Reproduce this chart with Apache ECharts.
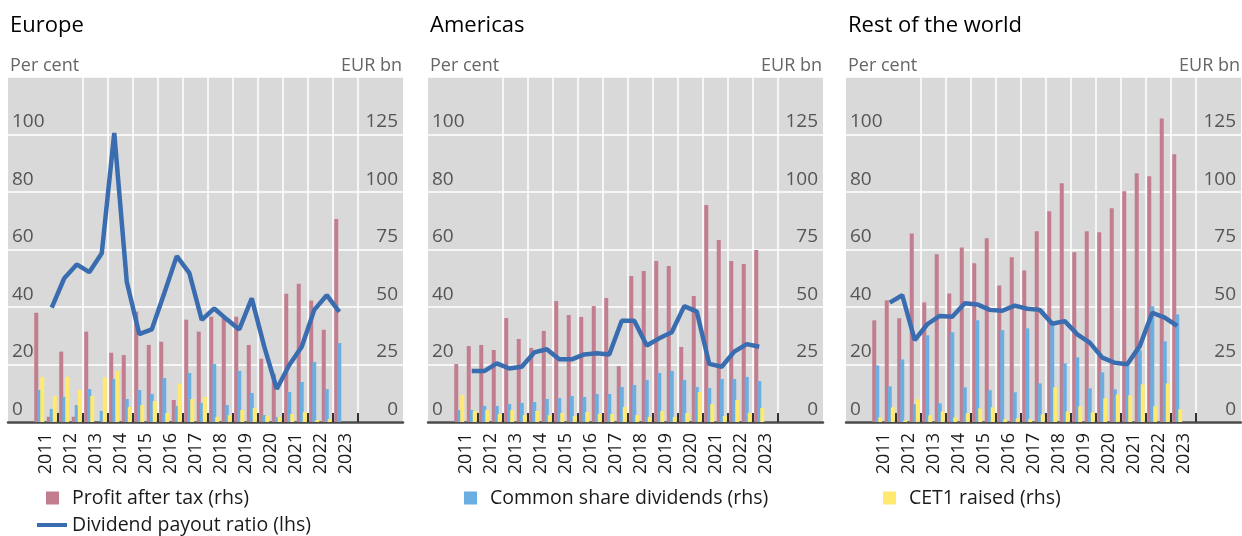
<!DOCTYPE html>
<html><head><meta charset="utf-8">
<script src="https://cdn.jsdelivr.net/npm/echarts@6/dist/echarts.min.js"></script>
<style>html,body{margin:0;padding:0;background:#fff}#c{width:1242px;height:536px}</style>
</head><body><div id="c"></div><script>
// ---------- data ----------
const years = ['2011','2012','2013','2014','2015','2016','2017','2018','2019','2020','2021','2022','2023'];
const halfYears = years.flatMap(y => [y + ' H1', y + ' H2']);
const panelTitles = ['Europe', 'Americas', 'Rest of the world'];
const seriesNames = ['Profit after tax (rhs)', 'Common share dividends (rhs)', 'CET1 raised (rhs)', 'Dividend payout ratio (lhs)'];

// Europe (EUR bn, half-yearly; payout ratio in per cent)
const europeProfit    = [47.5, 2.3, 30.6, 2.3, 39.3, 0, 30.1, 29.1, 48.0, 33.5, 34.9, 9.6, 44.5, 39.3, 45.8, 45.1, 45.8, 33.5, 27.5, 20.9, 55.8, 60.1, 52.8, 40.1, 88.3, null];
const europeDividends = [13.9, 5.7, 10.9, 7.4, 14.3, 4.8, 18.7, 10.0, 13.9, 12.2, 19.1, 7.0, 21.3, 8.3, 25.2, 7.4, 22.2, 12.6, 3.0, 2.2, 13.0, 17.4, 26.1, 14.3, 34.3, null];
const europeCet1      = [19.6, 11.3, 19.6, 13.9, 11.3, 19.3, 22.2, 6.5, 7.4, 9.1, 3.9, 16.7, 10.0, 10.9, 2.2, 3.0, 5.2, 6.1, 2.8, 2.2, 3.5, 4.3, 0.9, 1.2, 0, null];
const europePayout    = [null, 39.8, 50.0, 54.8, 52.1, 58.7, 100.5, 48.8, 30.6, 32.2, 44.8, 57.7, 51.9, 35.5, 39.5, 35.7, 32.2, 43.0, 26.2, 11.5, 19.8, 26.2, 39.0, 44.1, 38.3, null];

// Americas
const americasProfit    = [25.2, 33.0, 33.5, 31.3, 45.2, 36.1, 32.2, 39.6, 52.6, 46.5, 45.7, 50.4, 53.9, 24.3, 63.5, 65.7, 70.0, 67.8, 32.6, 54.8, 94.3, 79.1, 70.0, 68.7, 74.8, null];
const americasDividends = [5.2, 5.2, 7.0, 7.0, 7.8, 8.3, 8.7, 10.0, 10.4, 11.3, 10.9, 12.2, 12.2, 15.2, 16.1, 18.3, 21.3, 22.2, 18.3, 15.2, 14.8, 18.7, 18.7, 19.6, 17.8, null];
const americasCet1      = [11.7, 4.8, 5.2, 3.5, 5.2, 3.0, 4.8, 3.0, 3.9, 2.6, 4.3, 3.5, 3.5, 6.5, 3.0, 2.2, 4.8, 2.2, 3.9, 13.0, 7.8, 2.6, 9.6, 3.9, 6.1, null];
const americasPayout    = [null, 17.7, 17.7, 20.4, 18.6, 19.2, 24.2, 25.3, 21.8, 21.8, 23.5, 23.9, 23.5, 35.2, 35.2, 26.6, 29.1, 31.2, 40.3, 38.4, 20.2, 19.2, 24.5, 27.1, 26.2, null];

// Rest of the world
const rowProfit    = [44.2, 52.9, 45.1, 82.0, 52.0, 72.9, 55.9, 75.9, 69.0, 79.9, 59.4, 71.6, 65.9, 82.9, 91.6, 103.8, 73.8, 82.9, 82.5, 92.9, 100.3, 108.1, 106.8, 132.0, 116.4, null];
const rowDividends = [24.6, 15.5, 27.2, 7.7, 37.7, 8.1, 39.0, 15.1, 44.2, 13.8, 39.9, 12.9, 40.7, 16.8, 42.0, 25.5, 28.1, 14.6, 21.6, 14.2, 24.6, 31.2, 50.3, 35.1, 46.8, null];
const rowCet1      = [2.0, 6.4, 0.7, 9.9, 2.9, 4.6, 2.0, 3.8, 5.9, 6.4, 1.2, 1.6, 1.2, 3.3, 15.1, 4.6, 6.8, 4.2, 10.3, 12.0, 11.6, 16.4, 6.8, 16.8, 5.5, null];
const rowPayout    = [null, 41.5, 44.1, 28.5, 34.0, 36.9, 36.6, 41.3, 40.9, 39.0, 38.7, 40.5, 39.4, 39.0, 34.2, 35.1, 30.5, 27.6, 22.4, 20.6, 20.1, 26.4, 38.0, 36.3, 33.4, null];

const panelData = [
  [europeProfit, europeDividends, europeCet1, europePayout],
  [americasProfit, americasDividends, americasCet1, americasPayout],
  [rowProfit, rowDividends, rowCet1, rowPayout]
];

// ---------- styling / layout ----------
const FONT = 'Open Sans';
const COLORS = ['#C27D8E', '#6AAEE2', '#FFE96E', '#3A6DAF'];
const W = 1242, H = 536;
const panelLeft = [8, 428, 846];
const panelWidth = 395;
const plotInset = 25;
const plotWidth = 325;
const gridTop = 77, gridBottom = H - 422;

const chart = echarts.init(document.getElementById('c'), null, {renderer: 'canvas'});
const grid = [], xAxis = [], yAxis = [], series = [], title = [];

panelTitles.forEach((t, p) => {
  const L = panelLeft[p];
  title.push({text: t, left: L + 2, top: 15, padding: 0, textStyle: {fontFamily: FONT, fontSize: 22, fontWeight: 'normal', color: '#000'}});
  title.push({text: 'Per cent', left: L + 2, top: 57, padding: 0, textStyle: {fontFamily: FONT, fontSize: 18, fontWeight: 'normal', color: '#666'}});
  title.push({text: 'EUR bn', right: W - (L + panelWidth) + 1, top: 57, padding: 0, textStyle: {fontFamily: FONT, fontSize: 18, fontWeight: 'normal', color: '#666'}});

  const gBg = grid.length;
  grid.push({left: L, width: panelWidth, top: gridTop, bottom: gridBottom, show: true, backgroundColor: '#D9D9D9', borderWidth: 0});
  const gPl = grid.length;
  grid.push({left: L + plotInset, width: plotWidth, top: gridTop, bottom: gridBottom});

  xAxis.push({type: 'value', gridIndex: gBg, min: 0, max: 1, position: 'bottom',
    axisLabel: {show: false}, axisTick: {show: false}, splitLine: {show: false},
    axisLine: {show: true, lineStyle: {color: '#4a4a4a', width: 2.5}}});
  const xHalf = xAxis.length;
  xAxis.push({type: 'category', gridIndex: gPl, data: halfYears, boundaryGap: true, position: 'bottom',
    axisLabel: {show: false}, axisTick: {show: false}, axisLine: {show: false}, splitLine: {show: false}});
  xAxis.push({type: 'category', gridIndex: gPl, data: years, boundaryGap: true, position: 'bottom', offset: 0,
    axisLine: {show: false},
    axisTick: {show: true, inside: true, length: 9, interval: (i) => i !== 0, lineStyle: {color: '#333', width: 2}},
    splitLine: {show: true, showMinLine: false, interval: (i) => i !== 0, lineStyle: {color: '#fff', width: 1.5}},
    axisLabel: {show: true, rotate: 90, margin: 11, interval: 0, fontFamily: FONT, fontSize: 18, color: '#1a1a1a'}});

  yAxis.push({type: 'value', gridIndex: gBg, position: 'left', min: 0, max: 120, interval: 20,
    axisLine: {show: false}, axisTick: {show: false},
    splitLine: {show: true, lineStyle: {color: '#fff', width: 1.5}},
    axisLabel: {inside: true, margin: 4, showMaxLabel: false, verticalAlign: 'bottom', padding: [0, 0, 3, 0],
      fontFamily: FONT, fontSize: 19, color: '#555'}});
  yAxis.push({type: 'value', gridIndex: gBg, position: 'right', min: 0, max: 150, interval: 25,
    axisLine: {show: false}, axisTick: {show: false}, splitLine: {show: false},
    axisLabel: {inside: true, margin: 5, showMaxLabel: false, verticalAlign: 'bottom', padding: [0, 0, 3, 0],
      fontFamily: FONT, fontSize: 19, color: '#555'}});
  const yPlL = yAxis.length;
  yAxis.push({type: 'value', gridIndex: gPl, position: 'left', min: 0, max: 120, show: false});
  const yPlR = yAxis.length;
  yAxis.push({type: 'value', gridIndex: gPl, position: 'right', min: 0, max: 150, show: false});

  const d = panelData[p];
  for (let s = 0; s < 3; s++) {
    series.push({name: seriesNames[s], type: 'bar', xAxisIndex: xHalf, yAxisIndex: yPlR,
      data: d[s], barWidth: 4, barGap: '-25%', itemStyle: {color: COLORS[s]}, silent: true, animation: false, z: 2});
  }
  series.push({name: seriesNames[3], type: 'line', xAxisIndex: xHalf, yAxisIndex: yPlL,
    data: d[3], symbol: 'none', showSymbol: false, lineStyle: {color: COLORS[3], width: 4.5}, itemStyle: {color: COLORS[3]},
    silent: true, animation: false, z: 3});
});

const legendText = {fontFamily: FONT, fontSize: 19.5, color: '#1a1a1a', padding: [0, 0, 0, 8]};
const legend = [
  {data: [{name: seriesNames[0], icon: 'rect'}], left: 46, top: 488, itemWidth: 13, itemHeight: 13, padding: 0, textStyle: legendText, selectedMode: false},
  {data: [{name: seriesNames[3], icon: 'rect', itemStyle: {color: COLORS[3]}}], left: 37, top: 515, itemWidth: 30, itemHeight: 4, padding: 0,
    textStyle: Object.assign({}, legendText, {padding: [0, 0, 0, 0]}), selectedMode: false},
  {data: [{name: seriesNames[1], icon: 'rect'}], left: 464, top: 488, itemWidth: 13, itemHeight: 13, padding: 0, textStyle: legendText, selectedMode: false},
  {data: [{name: seriesNames[2], icon: 'rect'}], left: 883, top: 488, itemWidth: 13, itemHeight: 13, padding: 0, textStyle: legendText, selectedMode: false}
];

chart.setOption({animation: false, title, grid, xAxis, yAxis, series, legend});
</script></body></html>
